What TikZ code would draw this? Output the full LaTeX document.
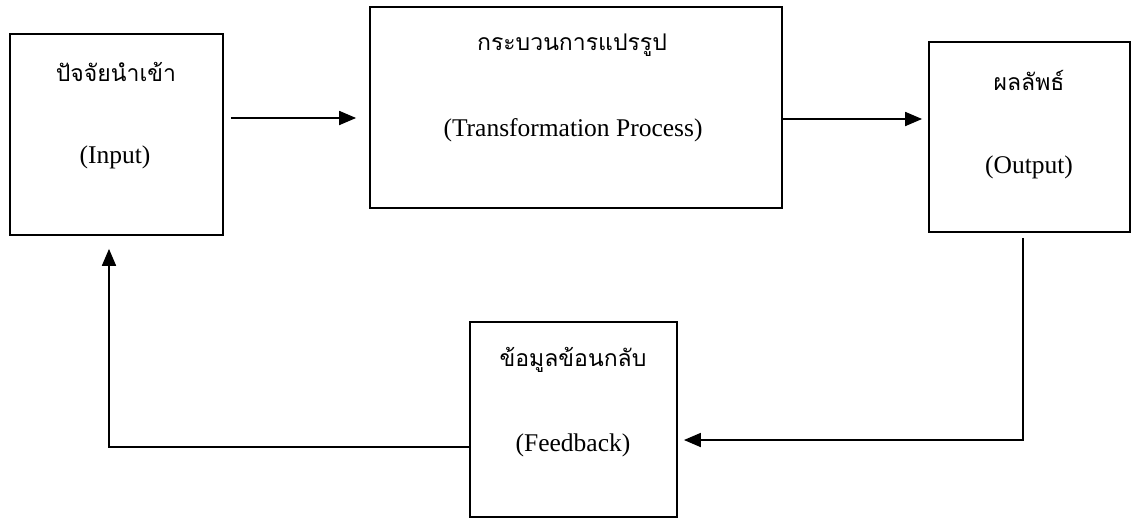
\documentclass[tikz,border=0pt]{standalone}
\usepackage{fontspec}
\setmainfont{Liberation Serif}
\newfontfamily\thai[Script=Thai]{Loma}
\usetikzlibrary{arrows.meta,calc}
\tikzset{
  blk/.style={draw=black, line width=1.8pt, rectangle, inner sep=0pt},
  lbl/.style={inner sep=0pt, anchor=center},
  thl/.style={lbl, font=\thai\fontsize{23}{26}\selectfont},
  enl/.style={lbl, font=\fontsize{25.5}{29}\selectfont},
  arr/.style={line width=1.8pt, -{Triangle[length=17pt,width=14pt]}}
}
\begin{document}
\begin{tikzpicture}[x=1pt,y=-1pt]
\useasboundingbox (0,0) rectangle (1132,520);
% boxes
\node[blk, minimum width=213pt, minimum height=201pt] (in)  at (116.5,134.5) {};
\node[blk, minimum width=412pt, minimum height=201pt] (tr)  at (576,107.5) {};
\node[blk, minimum width=201pt, minimum height=190pt] (out) at (1029.5,137) {};
\node[blk, minimum width=207pt, minimum height=195pt] (fb)  at (573.5,419.5) {};
% labels
\node[thl] (inT)  at (116,72)  {ปัจจัยนำเข้า};
\node[enl] (inE)  at (115,157) {(Input)};
\node[thl] (trT)  at (572,45)  {กระบวนการแปรรูป};
\node[enl] (trE)  at (573,130) {(Transformation Process)};
\node[thl] (outT) at (1029,80) {ผลลัพธ์};
\node[enl] (outE) at (1029,167) {(Output)};
\node[thl] (fbT)  at (573,360) {ข้อมูลข้อนกลับ};
\node[enl] (fbE)  at (573,445) {(Feedback)};
% connectors
\draw[arr, shorten >=13pt] ($(in.east)+(7,-16.5)$) -- ($(tr.west)+(0,10.5)$);
\draw[arr, shorten >=6pt] ($(tr.east)+(0,11.5)$) -- ($(out.west)+(0,-18)$);
\draw[arr, shorten <=5pt, shorten >=6pt] ($(out.south)+(-6.5,0)$) |- ($(fb.east)+(0,20.5)$);
\draw[arr, shorten >=13pt] ($(fb.west)+(0,27.5)$) -| ($(in.south)+(-7.5,0)$);
\end{tikzpicture}
\end{document}
